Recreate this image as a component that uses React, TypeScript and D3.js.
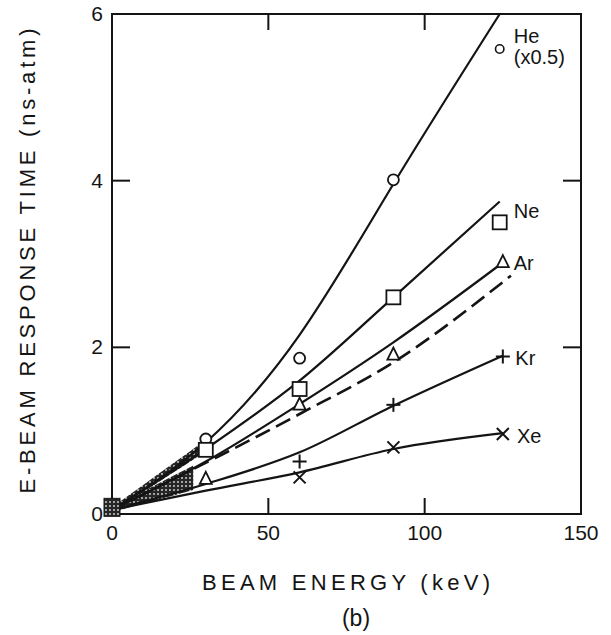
import React from "react";
import * as d3 from "d3";

// Beam energy (keV) vs e-beam response time (ns-atm) for rare gases
const W = 611;
const H = 635;

const xTicks = [0, 50, 100, 150];
const yTicks = [0, 2, 4, 6];
const innerXTicks = [50, 100];
const innerYTicks = [2, 4];

// Fitted curves: [energy, response]
const heCurve: [number, number][] = [[0, 0.05], [30, 0.86], [60, 2.15], [90, 3.96], [124, 6.0]];
const neCurve: [number, number][] = [[0, 0.05], [30, 0.78], [60, 1.6], [90, 2.6], [124, 3.75]];
const arCurve: [number, number][] = [[0, 0.05], [30, 0.63], [60, 1.32], [90, 2.06], [124.4, 3.0]];
const dashCurve: [number, number][] = [[0, 0.05], [60, 1.2], [90, 1.82], [127.6, 2.86]];
const krCurve: [number, number][] = [[0, 0.05], [30, 0.36], [60, 0.74], [90, 1.3], [125, 1.9]];
const xeCurve: [number, number][] = [[0, 0.05], [30, 0.28], [60, 0.5], [90, 0.78], [125, 0.97]];

// Measured points
const hePoints: [number, number][] = [[30, 0.9], [60, 1.87], [90, 4.01]];
const heLegendPoint: [number, number] = [124, 5.58];
const nePoints: [number, number][] = [[30, 0.77], [60, 1.5], [90, 2.6], [124, 3.5]];
const arPoints: [number, number][] = [[30, 0.42], [60, 1.31], [90, 1.91], [125, 3.02]];
const krPoints: [number, number][] = [[60, 0.63], [90, 1.31], [125, 1.89]];
const xePoints: [number, number][] = [[60, 0.44], [90, 0.8], [125, 0.96]];
const originPoint: [number, number] = [0, 0.08];

// Gas labels placed next to the 125 keV points
const gasLabels: { text: string; at: [number, number] }[] = [
  { text: "He", at: [128.5, 5.65] },
  { text: "(x0.5)", at: [128.5, 5.4] },
  { text: "Ne", at: [128.5, 3.55] },
  { text: "Ar", at: [128.5, 2.93] },
  { text: "Kr", at: [129, 1.79] },
  { text: "Xe", at: [129.5, 0.85] },
];

const FONT = "'Liberation Sans', Arial, Helvetica, sans-serif";
const INK = "#141414";

export default function App() {
  const x = d3.scaleLinear().domain([0, 150]).range([112, 581]);
  const y = d3.scaleLinear().domain([0, 6]).range([514, 14]);

  const line = d3
    .line<[number, number]>()
    .x((d) => x(d[0]))
    .y((d) => y(d[1]))
    .curve(d3.curveMonotoneX);

  const smoothLine = d3
    .line<[number, number]>()
    .x((d) => x(d[0]))
    .y((d) => y(d[1]))
    .curve(d3.curveNatural);

  const band = (upper: [number, number][], lower: [number, number][], maxX: number) => {
    const interp = (c: [number, number][], v: number) => {
      for (let i = 1; i < c.length; i++) {
        if (v <= c[i][0]) {
          const t = (v - c[i - 1][0]) / (c[i][0] - c[i - 1][0]);
          return c[i - 1][1] + t * (c[i][1] - c[i - 1][1]);
        }
      }
      return c[c.length - 1][1];
    };
    const xs = d3.range(0, maxX + 0.001, maxX / 10);
    const top = xs.map((v) => [v, interp(upper, v) + 0.03] as [number, number]);
    const bot = xs.map((v) => [v, interp(lower, v) - 0.03] as [number, number]).reverse();
    const pts = top.concat(bot);
    return "M" + pts.map((p) => `${x(p[0])},${y(p[1])}`).join("L") + "Z";
  };

  const sq = 14;
  const tri = (cx: number, cy: number, s: number) =>
    `M${cx},${cy - s * 0.6}L${cx + s / 2},${cy + s * 0.4}L${cx - s / 2},${cy + s * 0.4}Z`;

  return (
    <svg
      width={W}
      height={H}
      viewBox={`0 0 ${W} ${H}`}
      style={{ position: "absolute", left: 0, top: 0, background: "#fff" }}
    >
      <defs>
        <pattern id="stipple" width="4" height="4" patternUnits="userSpaceOnUse">
          <rect width="4" height="4" fill="#262626" />
          <circle cx="2" cy="2" r="0.9" fill="#ddd" />
        </pattern>
      </defs>

      {/* frame */}
      <rect
        x={x(0)}
        y={y(6)}
        width={x(150) - x(0)}
        height={y(0) - y(6)}
        fill="none"
        stroke={INK}
        strokeWidth={2}
      />

      {/* inward ticks */}
      {innerXTicks.map((t) => (
        <g key={"xt" + t}>
          <line x1={x(t)} x2={x(t)} y1={y(0)} y2={y(0) - 16} stroke={INK} strokeWidth={2} />
          <line x1={x(t)} x2={x(t)} y1={y(6)} y2={y(6) + 16} stroke={INK} strokeWidth={2} />
        </g>
      ))}
      {innerYTicks.map((t) => (
        <g key={"yt" + t}>
          <line x1={x(0)} x2={x(0) + 18} y1={y(t)} y2={y(t)} stroke={INK} strokeWidth={2} />
          <line x1={x(150)} x2={x(150) - 18} y1={y(t)} y2={y(t)} stroke={INK} strokeWidth={2} />
        </g>
      ))}

      {/* tick labels */}
      {xTicks.map((t) => (
        <text
          key={"xl" + t}
          x={x(t)}
          y={540}
          textAnchor="middle"
          fontFamily={FONT}
          fontSize={21}
          fill={INK}
        >
          {t}
        </text>
      ))}
      {yTicks.map((t) => (
        <text
          key={"yl" + t}
          x={103}
          y={y(t) + 7}
          textAnchor="end"
          fontFamily={FONT}
          fontSize={21}
          fill={INK}
        >
          {t}
        </text>
      ))}

      {/* stippled region near the origin */}
      <path d={band(heCurve, neCurve, 28)} fill="url(#stipple)" />
      <path d={band(arCurve, krCurve, 26)} fill="url(#stipple)" />

      {/* fitted curves */}
      <path d={smoothLine(heCurve) || ""} fill="none" stroke={INK} strokeWidth={2.2} />
      {[neCurve, arCurve, krCurve, xeCurve].map((c, i) => (
        <path key={"c" + i} d={line(c) || ""} fill="none" stroke={INK} strokeWidth={2.2} />
      ))}
      <path
        d={line(dashCurve) || ""}
        fill="none"
        stroke={INK}
        strokeWidth={2.6}
        strokeDasharray="16 7"
      />

      {/* origin marker */}
      <rect
        x={x(originPoint[0]) - 8}
        y={y(originPoint[1]) - 9}
        width={16}
        height={18}
        fill="url(#stipple)"
        stroke={INK}
        strokeWidth={1}
      />

      {/* He circles */}
      {hePoints.map((p, i) => (
        <circle key={"he" + i} cx={x(p[0])} cy={y(p[1])} r={5.5} fill="#fff" stroke={INK} strokeWidth={1.8} />
      ))}
      <circle cx={x(heLegendPoint[0])} cy={y(heLegendPoint[1])} r={4.2} fill="#fff" stroke={INK} strokeWidth={1.6} />

      {/* Ne squares */}
      {nePoints.map((p, i) => (
        <rect
          key={"ne" + i}
          x={x(p[0]) - sq / 2}
          y={y(p[1]) - sq / 2}
          width={sq}
          height={sq}
          fill="#fff"
          stroke={INK}
          strokeWidth={1.8}
        />
      ))}

      {/* Ar triangles */}
      {arPoints.map((p, i) => (
        <path key={"ar" + i} d={tri(x(p[0]), y(p[1]), 12)} fill="#fff" stroke={INK} strokeWidth={1.8} />
      ))}

      {/* Kr plus signs */}
      {krPoints.map((p, i) => (
        <g key={"kr" + i} stroke={INK} strokeWidth={2}>
          <line x1={x(p[0]) - 7} x2={x(p[0]) + 7} y1={y(p[1])} y2={y(p[1])} />
          <line x1={x(p[0])} x2={x(p[0])} y1={y(p[1]) - 7} y2={y(p[1]) + 7} />
        </g>
      ))}

      {/* Xe crosses */}
      {xePoints.map((p, i) => (
        <g key={"xe" + i} stroke={INK} strokeWidth={2}>
          <line x1={x(p[0]) - 6} x2={x(p[0]) + 6} y1={y(p[1]) - 6} y2={y(p[1]) + 6} />
          <line x1={x(p[0]) - 6} x2={x(p[0]) + 6} y1={y(p[1]) + 6} y2={y(p[1]) - 6} />
        </g>
      ))}

      {/* gas labels */}
      {gasLabels.map((l, i) => (
        <text
          key={"gl" + i}
          x={x(l.at[0])}
          y={y(l.at[1])}
          fontFamily={FONT}
          fontSize={20}
          fill={INK}
        >
          {l.text}
        </text>
      ))}

      {/* axis titles */}
      <text
        x={346}
        y={590}
        textAnchor="middle"
        fontFamily={FONT}
        fontSize={22}
        fill={INK}
        textLength={288}
        lengthAdjust="spacing"
      >
        BEAM ENERGY (keV)
      </text>
      <text
        x={356}
        y={626}
        textAnchor="middle"
        fontFamily={FONT}
        fontSize={23}
        fill={INK}
      >
        (b)
      </text>
      <text
        transform={`translate(35, 261) rotate(-90)`}
        textAnchor="middle"
        fontFamily={FONT}
        fontSize={22}
        fill={INK}
        textLength={465}
        lengthAdjust="spacing"
      >
        E-BEAM RESPONSE TIME (ns-atm)
      </text>
    </svg>
  );
}
